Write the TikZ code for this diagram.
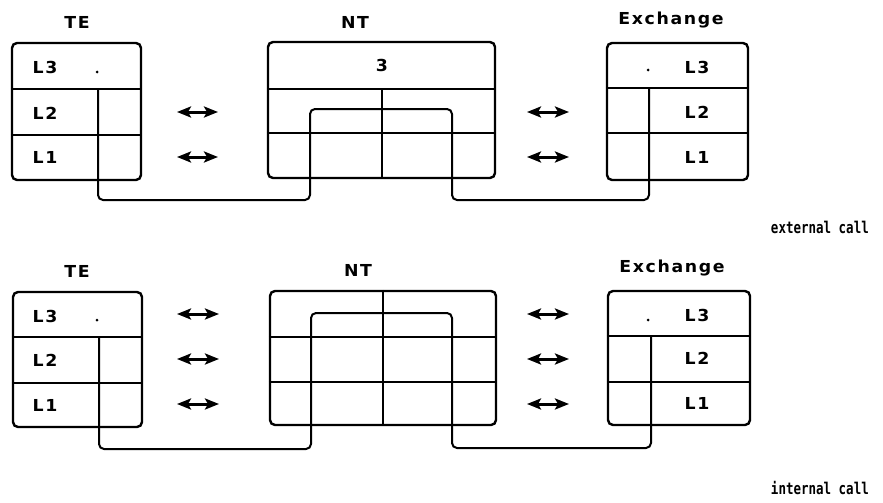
\documentclass[tikz,border=0pt]{standalone}
\usepackage{fontspec}
\usetikzlibrary{arrows.meta}
\newfontfamily\plotfont[FakeStretch=1.05,LetterSpace=10]{DejaVu Sans}
\newfontfamily\plotmono{DejaVu Sans Mono}

\begin{document}
\begin{tikzpicture}[x=1pt,y=-1pt,
  stack/.style={draw,line width=2.4pt,rounded corners=5pt,inner sep=0pt},
  rule/.style={line width=2.2pt},
  route/.style={line width=2pt,rounded corners=5pt},
  peer/.style={line width=3pt,
    {Stealth[length=14pt,width=11pt,inset=3pt]}-{Stealth[length=14pt,width=11pt,inset=3pt]}},
  lbl/.style={font=\fontsize{16.5}{16.5}\plotfont\bfseries,inner sep=0pt},
  callname/.style={font=\fontsize{12.5}{12.5}\plotmono\bfseries,inner sep=0pt,anchor=east},
  pip/.style={fill,radius=1.5pt}
]
\useasboundingbox (0,0) rectangle (883,503);

% ---------------- external call ----------------
\node[lbl] (teA)  at (77,22)  {TE};
\node[lbl] (ntA)  at (355,22) {NT};
\node[lbl] (exA)  at (671,20) {Exchange};

\node[stack,minimum width=129pt,minimum height=137pt] (teAbox) at (76.5,111.5) {};
\node[stack,minimum width=227pt,minimum height=136pt] (ntAbox) at (381.5,110) {};
\node[stack,minimum width=141pt,minimum height=137pt] (exAbox) at (677.5,111.5) {};

% layer boundaries
\draw[rule] (teAbox.west |- 0,89)  -- (teAbox.east |- 0,89);
\draw[rule] (teAbox.west |- 0,135) -- (teAbox.east |- 0,135);
\draw[rule] (ntAbox.west |- 0,89)  -- (ntAbox.east |- 0,89);
\draw[rule] (ntAbox.west |- 0,133) -- (ntAbox.east |- 0,133);
\draw[rule] (382,89) -- (ntAbox.south -| 382,0);
\draw[rule] (exAbox.west |- 0,88)  -- (exAbox.east |- 0,88);
\draw[rule] (exAbox.west |- 0,133) -- (exAbox.east |- 0,133);

\node[lbl] (teA3) at (45,67)  {L3};
\node[lbl] (teA2) at (45,113) {L2};
\node[lbl] (teA1) at (45,157) {L1};
\node[lbl] (ntA3) at (382,65) {3};
\node[lbl] (exA3) at (697,67)  {L3};
\node[lbl] (exA2) at (697,112) {L2};
\node[lbl] (exA1) at (697,157) {L1};
\fill[pip] (97,72) circle;
\fill[pip] (648,70) circle;

% peer arrows
\coordinate (pA2l) at (177,112); \coordinate (pA2r) at (218,112);
\coordinate (pA1l) at (177,157); \coordinate (pA1r) at (218,157);
\coordinate (qA2l) at (527,112); \coordinate (qA2r) at (569,112);
\coordinate (qA1l) at (527,157); \coordinate (qA1r) at (569,157);
\draw[peer] (pA2l) -- (pA2r);
\draw[peer] (pA1l) -- (pA1r);
\draw[peer] (qA2l) -- (qA2r);
\draw[peer] (qA1l) -- (qA1r);

% connection path
\coordinate (teAcut) at (98,89);
\coordinate (exAcut) at (649,88);
\draw[route] (teAcut) -- (98,200) -- (310,200) -- (310,109) -- (452,109)
  -- (452,200) -- (649,200) -- (exAcut);

\node[callname] (extcall) at (869,227) {\scalebox{1}[1.3]{external call}};

% ---------------- internal call ----------------
\node[lbl] (teB)  at (77,271)  {TE};
\node[lbl] (ntB)  at (358,270) {NT};
\node[lbl] (exB)  at (672,268) {Exchange};

\node[stack,minimum width=129pt,minimum height=135pt] (teBbox) at (77.5,359.5) {};
\node[stack,minimum width=226pt,minimum height=134pt] (ntBbox) at (383,358) {};
\node[stack,minimum width=142pt,minimum height=134pt] (exBbox) at (679,358) {};

\draw[rule] (teBbox.west |- 0,337) -- (teBbox.east |- 0,337);
\draw[rule] (teBbox.west |- 0,383) -- (teBbox.east |- 0,383);
\draw[rule] (ntBbox.west |- 0,337) -- (ntBbox.east |- 0,337);
\draw[rule] (ntBbox.west |- 0,382) -- (ntBbox.east |- 0,382);
\draw[rule] (ntBbox.north -| 383,0) -- (ntBbox.south -| 383,0);
\draw[rule] (exBbox.west |- 0,336) -- (exBbox.east |- 0,336);
\draw[rule] (exBbox.west |- 0,382) -- (exBbox.east |- 0,382);

\node[lbl] (teB3) at (45,316) {L3};
\node[lbl] (teB2) at (45,360) {L2};
\node[lbl] (teB1) at (45,405) {L1};
\node[lbl] (exB3) at (697,315) {L3};
\node[lbl] (exB2) at (697,358) {L2};
\node[lbl] (exB1) at (697,403) {L1};
\fill[pip] (97,320) circle;
\fill[pip] (648,320) circle;

\coordinate (pB3l) at (177,314); \coordinate (pB3r) at (219,314);
\coordinate (pB2l) at (177,359); \coordinate (pB2r) at (219,359);
\coordinate (pB1l) at (177,404); \coordinate (pB1r) at (219,404);
\coordinate (qB3l) at (527,314); \coordinate (qB3r) at (569,314);
\coordinate (qB2l) at (527,359); \coordinate (qB2r) at (569,359);
\coordinate (qB1l) at (527,404); \coordinate (qB1r) at (569,404);
\draw[peer] (pB3l) -- (pB3r);
\draw[peer] (pB2l) -- (pB2r);
\draw[peer] (pB1l) -- (pB1r);
\draw[peer] (qB3l) -- (qB3r);
\draw[peer] (qB2l) -- (qB2r);
\draw[peer] (qB1l) -- (qB1r);

\coordinate (teBcut) at (99,337);
\coordinate (exBcut) at (651,336);
\draw[route] (teBcut) -- (99,449) -- (311,449) -- (311,313) -- (452,313)
  -- (452,448) -- (651,448) -- (exBcut);

\node[callname] (intcall) at (869,488) {\scalebox{1}[1.3]{internal call}};
\end{tikzpicture}
\end{document}
